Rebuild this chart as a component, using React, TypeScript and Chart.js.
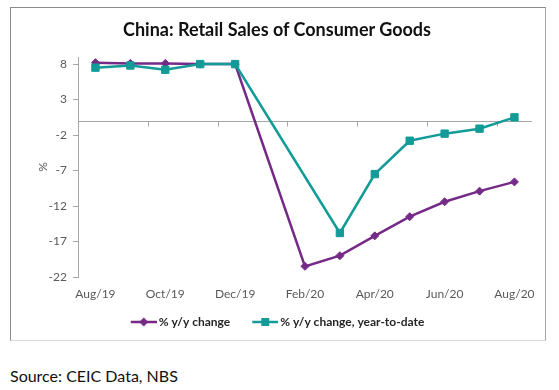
import React, { useEffect, useRef } from 'react';
import { Chart, registerables } from 'chart.js';

Chart.register(...registerables);

const categories = ['Aug/19', 'Sep/19', 'Oct/19', 'Nov/19', 'Dec/19', 'Jan/20', 'Feb/20', 'Mar/20', 'Apr/20', 'May/20', 'Jun/20', 'Jul/20', 'Aug/20'];
const yoyChange = [8.2, 8.1, 8.1, 8.0, 8.0, null, -20.5, -19.0, -16.2, -13.5, -11.4, -9.9, -8.6];
const ytdChange = [7.5, 7.8, 7.2, 8.0, 8.0, null, null, -15.8, -7.5, -2.8, -1.8, -1.1, 0.5];
const yTickValues = [-22, -17, -12, -7, -2, 3, 8];
const seriesNames = ['% y/y change', '% y/y change, year-to-date'];

const PURPLE = '#742A86';
const TEAL = '#139B97';
const AXIS = '#A6A6A6';
const TEXT = '#595959';
const FONT = 'Lato, "Open Sans", sans-serif';

// legend symbol: line with marker, drawn in the right part of a wider transparent image
function legendImage(color: string, kind: 'diamond' | 'square') {
  const c = document.createElement('canvas');
  c.width = 40;
  c.height = 12;
  const ctx = c.getContext('2d')!;
  ctx.strokeStyle = color;
  ctx.lineWidth = 2.5;
  ctx.beginPath();
  ctx.moveTo(14, 6);
  ctx.lineTo(40, 6);
  ctx.stroke();
  ctx.fillStyle = color;
  const cx = 27;
  if (kind === 'diamond') {
    ctx.beginPath();
    ctx.moveTo(cx, 1.5);
    ctx.lineTo(cx + 4.5, 6);
    ctx.lineTo(cx, 10.5);
    ctx.lineTo(cx - 4.5, 6);
    ctx.closePath();
    ctx.fill();
  } else {
    ctx.fillRect(cx - 4, 2, 8, 8);
  }
  return c;
}

const zeroLinePlugin = {
  id: 'zeroLine',
  beforeDatasetsDraw(chart: any) {
    const { ctx, chartArea, scales } = chart;
    const x = scales.x;
    const y = scales.y;
    const y0 = Math.round(y.getPixelForValue(0)) + 0.5;
    ctx.save();
    ctx.strokeStyle = AXIS;
    ctx.lineWidth = 1;
    ctx.beginPath();
    ctx.moveTo(chartArea.left, y0);
    ctx.lineTo(chartArea.right, y0);
    for (let i = 2; i < categories.length; i += 2) {
      const bx = Math.round((x.getPixelForValue(i - 1) + x.getPixelForValue(i)) / 2) + 0.5;
      ctx.moveTo(bx, y0);
      ctx.lineTo(bx, y0 + 5);
    }
    ctx.stroke();
    ctx.restore();
  },
};

export default function App() {
  const ref = useRef<HTMLCanvasElement>(null);

  useEffect(() => {
    const images = [legendImage(PURPLE, 'diamond'), legendImage(TEAL, 'square')];
    const chart = new Chart(ref.current!, {
      type: 'line',
      data: {
        labels: categories,
        datasets: [
          {
            label: seriesNames[0],
            data: yoyChange,
            borderColor: PURPLE,
            backgroundColor: PURPLE,
            borderWidth: 2.5,
            pointStyle: 'rectRot',
            pointRadius: 4,
            pointBorderWidth: 1,
            spanGaps: true,
            tension: 0,
            order: 1,
          },
          {
            label: seriesNames[1],
            data: ytdChange,
            borderColor: TEAL,
            backgroundColor: TEAL,
            borderWidth: 2.5,
            pointStyle: 'rect',
            pointRadius: 5.2,
            pointBorderWidth: 1,
            spanGaps: true,
            tension: 0,
            order: 0,
          },
        ],
      },
      options: {
        responsive: false,
        animation: false,
        layout: { padding: { top: 49, left: 0, right: 11, bottom: 2 } },
        plugins: {
          title: { display: false },
          tooltip: { enabled: false },
          legend: {
            position: 'bottom',
            labels: {
              usePointStyle: true,
              pointStyleWidth: 32,
              padding: 12,
              color: '#262626',
              font: { family: FONT, size: 12, weight: 'bold' },
              generateLabels: () =>
                seriesNames.map((name, i) => ({
                  text: name,
                  pointStyle: images[i],
                  fillStyle: 'transparent',
                  strokeStyle: 'transparent',
                  lineWidth: 0,
                  hidden: false,
                  datasetIndex: i,
                  fontColor: '#262626',
                })),
            },
          },
        },
        scales: {
          x: {
            type: 'category',
            offset: true,
            grid: { display: false, drawTicks: false },
            border: { display: false },
            ticks: {
              autoSkip: false,
              maxRotation: 0,
              padding: 10,
              color: TEXT,
              font: { family: FONT, size: 12 },
              callback: (_v: any, i: number) => (i % 2 === 0 ? categories[i] : ''),
            },
            afterFit: (s: any) => {
              s.height = 27;
            },
          },
          y: {
            min: -22,
            max: 9,
            grid: { display: true, drawOnChartArea: false, drawTicks: true, tickLength: 5, color: AXIS },
            border: { display: true, color: AXIS, width: 1 },
            ticks: {
              padding: 6,
              color: TEXT,
              font: { family: FONT, size: 12 },
            },
            afterBuildTicks: (s: any) => {
              s.ticks = yTickValues.map((v) => ({ value: v }));
            },
            title: {
              display: true,
              text: '%',
              color: TEXT,
              font: { family: FONT, size: 12 },
              padding: { top: 25, bottom: 0 },
            },
            afterFit: (s: any) => {
              s.width = 67;
            },
          },
        },
      },
      plugins: [zeroLinePlugin],
    } as any);
    return () => chart.destroy();
  }, []);

  return (
    <div style={{ position: 'absolute', left: 0, top: 0, width: 559, height: 390, background: '#fff', fontFamily: FONT }}>
      <div
        style={{
          position: 'absolute',
          left: 10,
          top: 7,
          width: 534,
          height: 332,
          border: '1px solid #8C8C8C',
          borderBottomColor: '#D9D9D9',
          borderRightColor: '#A6A6A6',
        }}
      />
      <canvas
        ref={ref}
        width={534}
        height={332}
        style={{ position: 'absolute', left: 11, top: 8, width: 534, height: 332 }}
      />
      <div
        style={{
          position: 'absolute',
          left: 0,
          top: 18,
          width: 554,
          textAlign: 'center',
          fontWeight: 'bold',
          fontSize: 18,
          lineHeight: '22px',
          color: '#111',
          whiteSpace: 'nowrap',
        }}
      >
        China: Retail Sales of Consumer Goods
      </div>
      <div
        style={{
          position: 'absolute',
          left: 10,
          top: 367,
          fontSize: 16,
          lineHeight: '18px',
          color: '#111',
          whiteSpace: 'nowrap',
        }}
      >
        Source: CEIC Data, NBS
      </div>
    </div>
  );
}
